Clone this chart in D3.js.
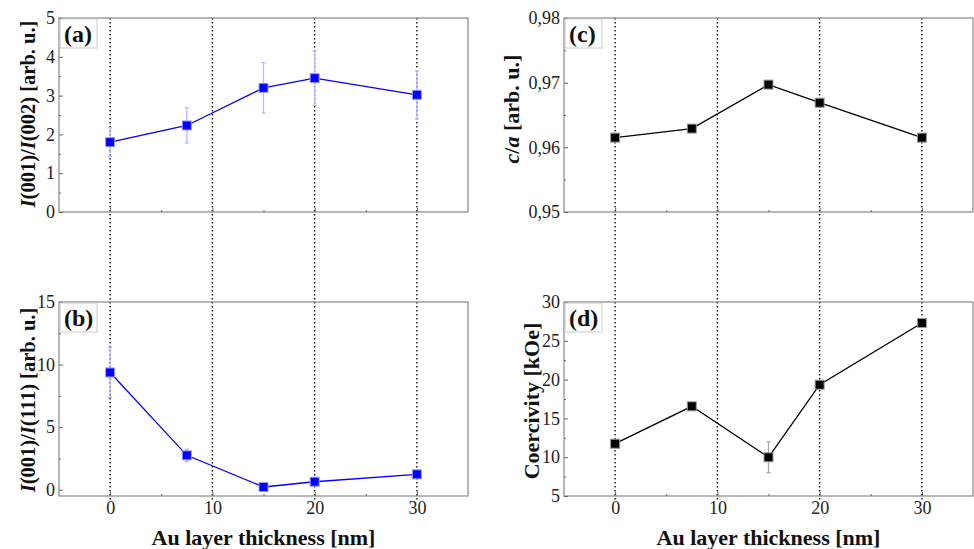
<!DOCTYPE html>
<html>
<head>
<meta charset="utf-8">
<script src="https://cdn.jsdelivr.net/npm/d3@7"></script>
<style>
  body { margin: 0; background: #fff; }
  svg, svg text { font-family: "Liberation Serif", "Times New Roman", serif; }
  .axis path { stroke: #888; }
  .axis line { stroke: #666; }
  .axis text { font-size: 18px; fill: #222; font-family: "Liberation Serif", "Times New Roman", serif; }
</style>
</head>
<body>
<div id="chart"></div>
<script>
// values
const thickness = [0, 7.5, 15, 20, 30];
const ratio002 = [1.8, 2.23, 3.2, 3.45, 3.02];
const ratio002Err = [0.37, 0.45, 0.65, 0.7, 0.62];
const ratio111 = [9.37, 2.75, 0.22, 0.64, 1.23];
const ratio111Err = [2.0, 0.5, 0.1, 0.1, 0.1];
const caRatio = [0.9615, 0.9629, 0.9697, 0.9669, 0.9615];
const coercivity = [11.74, 16.56, 9.99, 19.34, 27.3];
const coercivityErr = [0, 0, 2.0, 0, 0];

const xTicks = [0, 10, 20, 30];
const xMinor = [5, 15, 25];
const gridTicks = [0, 10, 20, 30];

const W = 974, H = 549;
const cols = [[59, 468], [564, 973]];
const rows = [[18, 212], [302, 496]];

const panels = [
  {tag: "(a)", col: 0, row: 0, y: ratio002, err: ratio002Err, dom: [0, 5],
   ticks: [0, 1, 2, 3, 4, 5], minor: [0.5, 1.5, 2.5, 3.5, 4.5],
   fmt: d3.format("d"), color: "#0000ff", edge: "#9999ff", errColor: "#b8b8ff",
   title: [["I", true], ["(001)/", false], ["I", true], ["(002) [arb. u.]", false]],
   tx: 28, ty: 114, tsize: 20.5},
  {tag: "(b)", col: 0, row: 1, y: ratio111, err: ratio111Err, dom: [-0.5, 15],
   ticks: [0, 5, 10, 15], minor: [2.5, 7.5, 12.5],
   fmt: d3.format("d"), color: "#0000ff", edge: "#9999ff", errColor: "#b8b8ff",
   title: [["I", true], ["(001)/", false], ["I", true], ["(111) [arb. u.]", false]],
   tx: 28, ty: 400, tsize: 20.5},
  {tag: "(c)", col: 1, row: 0, y: caRatio, err: null, dom: [0.95, 0.98],
   ticks: [0.95, 0.96, 0.97, 0.98], minor: [0.955, 0.965, 0.975],
   fmt: d => d3.format(".2f")(d).replace(".", ","), color: "#000", edge: "#999", errColor: "#aaa",
   title: [["c", true], ["/", false], ["a", true], [" [arb. u.]", false]],
   tx: 511, ty: 109, tsize: 22},
  {tag: "(d)", col: 1, row: 1, y: coercivity, err: coercivityErr, dom: [5, 30],
   ticks: [5, 10, 15, 20, 25, 30], minor: [7.5, 12.5, 17.5, 22.5, 27.5],
   fmt: d3.format("d"), color: "#000", edge: "#999", errColor: "#aaa",
   title: [["Coercivity [kOe]", false]],
   tx: 531, ty: 401, tsize: 22}
];

const svg = d3.select("#chart").append("svg")
  .attr("width", W).attr("height", H);

const xScales = cols.map(c => d3.scaleLinear().domain([-5, 35]).range(c));

// dotted vertical guides running through both rows
xScales.forEach(x => {
  svg.append("g").selectAll("line")
    .data(gridTicks).enter().append("line")
    .attr("x1", d => x(d)).attr("x2", d => x(d))
    .attr("y1", rows[0][0]).attr("y2", rows[1][1] + 4)
    .attr("stroke", "#111").attr("stroke-width", 1.4)
    .attr("stroke-dasharray", "1.4 2.6");
});

panels.forEach(p => {
  const x = xScales[p.col];
  const [top, bottom] = rows[p.row];
  const [left, right] = cols[p.col];
  const y = d3.scaleLinear().domain(p.dom).range([bottom, top]);
  const g = svg.append("g");

  // frame
  g.append("rect")
    .attr("x", left).attr("y", top)
    .attr("width", right - left).attr("height", bottom - top)
    .attr("fill", "none").attr("stroke", "#888").attr("stroke-width", 1.2);

  // y axis
  g.append("g").attr("class", "axis")
    .attr("transform", `translate(${left},0)`)
    .call(d3.axisLeft(y).tickValues(p.ticks).tickFormat(p.fmt).tickSizeInner(-4).tickSizeOuter(0).tickPadding(4))
    .call(a => a.select(".domain").remove());
  g.append("g").attr("class", "axis")
    .attr("transform", `translate(${left},0)`)
    .call(d3.axisLeft(y).tickValues(p.minor).tickFormat("").tickSizeInner(-2).tickSizeOuter(0))
    .call(a => a.select(".domain").remove());

  // x axis
  g.append("g").attr("class", "axis")
    .attr("transform", `translate(0,${bottom})`)
    .call(d3.axisBottom(x).tickValues(xTicks).tickFormat(p.row === 1 ? d3.format("d") : "").tickSizeInner(-4).tickSizeOuter(0).tickPadding(5))
    .call(a => a.select(".domain").remove());
  g.append("g").attr("class", "axis")
    .attr("transform", `translate(0,${bottom})`)
    .call(d3.axisBottom(x).tickValues(xMinor).tickFormat("").tickSizeInner(-2).tickSizeOuter(0))
    .call(a => a.select(".domain").remove());

  const pts = thickness.map((t, i) => ({x: t, y: p.y[i], e: p.err ? p.err[i] : 0}));

  // error bars
  const eb = g.append("g").selectAll("g").data(pts.filter(d => d.e > 0)).enter().append("g")
    .attr("stroke", p.errColor).attr("stroke-width", 1.3);
  eb.append("line")
    .attr("x1", d => x(d.x)).attr("x2", d => x(d.x))
    .attr("y1", d => y(d.y - d.e)).attr("y2", d => y(d.y + d.e));
  eb.append("line")
    .attr("x1", d => x(d.x) - 2).attr("x2", d => x(d.x) + 2)
    .attr("y1", d => y(d.y + d.e)).attr("y2", d => y(d.y + d.e));
  eb.append("line")
    .attr("x1", d => x(d.x) - 2).attr("x2", d => x(d.x) + 2)
    .attr("y1", d => y(d.y - d.e)).attr("y2", d => y(d.y - d.e));

  // line
  g.append("path").datum(pts)
    .attr("fill", "none").attr("stroke", p.color).attr("stroke-width", 1.3)
    .attr("d", d3.line().x(d => x(d.x)).y(d => y(d.y)));

  // markers
  const s = 9;
  g.append("g").selectAll("rect").data(pts).enter().append("rect")
    .attr("x", d => x(d.x) - s / 2).attr("y", d => y(d.y) - s / 2)
    .attr("width", s).attr("height", s)
    .attr("fill", p.color).attr("stroke", p.edge).attr("stroke-width", 1);

  // panel tag box
  g.append("rect")
    .attr("x", left + 1).attr("y", top + 1).attr("width", 37).attr("height", 29)
    .attr("fill", "#fff").attr("stroke", "#ccc").attr("stroke-width", 1);
  g.append("text")
    .attr("x", left + 5).attr("y", top + 24)
    .attr("font-size", 24).attr("font-weight", "bold").attr("fill", "#111")
    .text(p.tag);

  // y title
  const t = g.append("text")
    .attr("transform", `translate(${p.tx},${p.ty}) rotate(-90)`)
    .attr("text-anchor", "middle").attr("dy", "0.35em")
    .attr("font-size", p.tsize).attr("font-weight", "bold").attr("fill", "#111");
  p.title.forEach(([str, it]) => {
    t.append("tspan").attr("font-style", it ? "italic" : "normal").text(str);
  });

  // x title
  if (p.row === 1) {
    g.append("text")
      .attr("x", (left + right) / 2).attr("y", 545)
      .attr("text-anchor", "middle")
      .attr("font-size", 22).attr("font-weight", "bold").attr("fill", "#111")
      .text("Au layer thickness [nm]");
  }
});
</script>
</body>
</html>
